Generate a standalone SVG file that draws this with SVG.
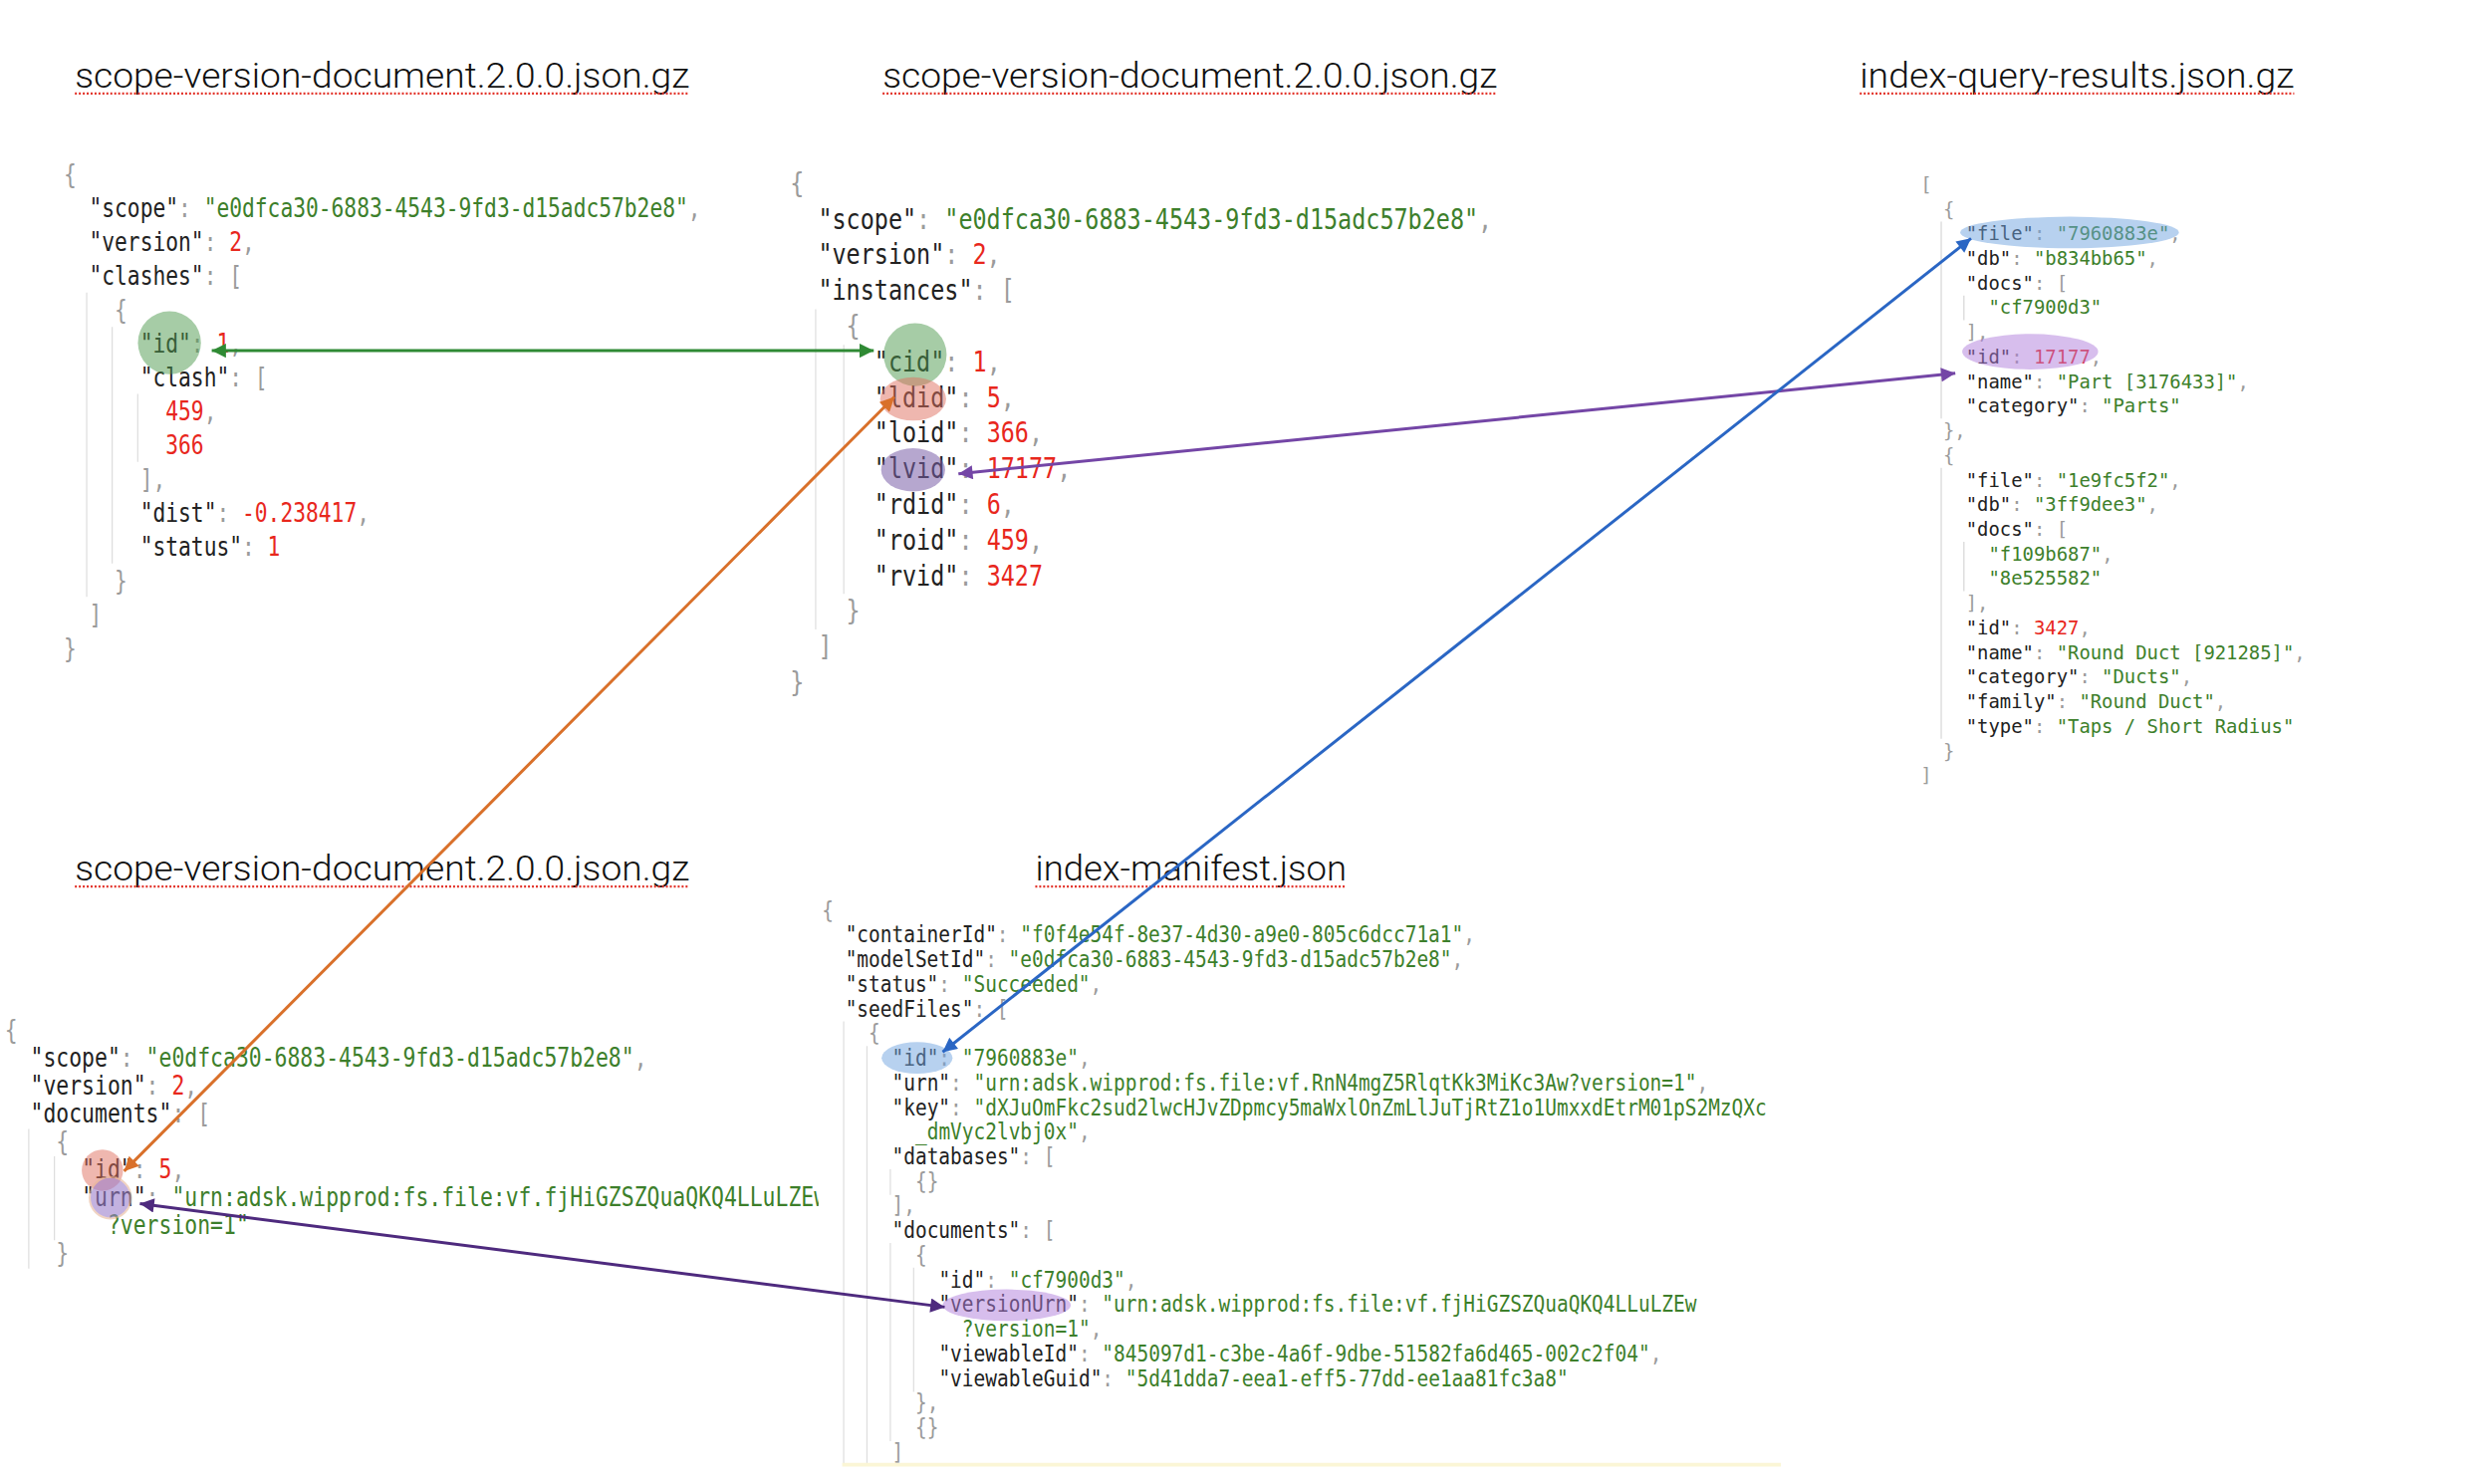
<svg xmlns="http://www.w3.org/2000/svg" width="2500" height="1490" viewBox="0 0 2500 1490">
<style>
.t{font-family:Roboto,"Liberation Sans",Arial,sans-serif;font-weight:300;font-size:36px;fill:#111}
.ul{stroke:#e3342b;stroke-width:2.2;stroke-dasharray:2 2}
.j{font-family:"DejaVu Sans Mono","Liberation Mono",monospace;fill:#222}
.p{fill:#9b9b9b}
.s{fill:#3d7f2b}
.n{fill:#e8271d}
.g{stroke:#dedede;stroke-width:1.5;fill:none}
.a{fill:none;stroke-width:3}
</style>
<defs>
<marker id="mG" viewBox="0 0 10 10" refX="10" refY="5" markerWidth="5.6" markerHeight="4.8" orient="auto-start-reverse"><path d="M0,0L10,5L0,10z" fill="#2f8a34"/></marker>
<marker id="mO" viewBox="0 0 10 10" refX="10" refY="5" markerWidth="5.6" markerHeight="4.8" orient="auto-start-reverse"><path d="M0,0L10,5L0,10z" fill="#d9702a"/></marker>
<marker id="mP" viewBox="0 0 10 10" refX="10" refY="5" markerWidth="5.6" markerHeight="4.8" orient="auto-start-reverse"><path d="M0,0L10,5L0,10z" fill="#7446a6"/></marker>
<marker id="mB" viewBox="0 0 10 10" refX="10" refY="5" markerWidth="5.6" markerHeight="4.8" orient="auto-start-reverse"><path d="M0,0L10,5L0,10z" fill="#2a66c4"/></marker>
<marker id="mQ" viewBox="0 0 10 10" refX="10" refY="5" markerWidth="5.6" markerHeight="4.8" orient="auto-start-reverse"><path d="M0,0L10,5L0,10z" fill="#4e2a7e"/></marker>
<clipPath id="c4"><rect x="0" y="900" width="831" height="500"/></clipPath>
</defs>
<rect width="2500" height="1490" fill="#fff"/>
<g id="diagram" transform="scale(0.989)">

<g id="titles">
<text class="t" x="76" y="89" textLength="624" lengthAdjust="spacingAndGlyphs">scope-version-document.2.0.0.json.gz</text>
<line class="ul" x1="76" y1="95" x2="700" y2="95"/>
<text class="t" x="896" y="89" textLength="624" lengthAdjust="spacingAndGlyphs">scope-version-document.2.0.0.json.gz</text>
<line class="ul" x1="896" y1="95" x2="1520" y2="95"/>
<text class="t" x="1888" y="89" textLength="441" lengthAdjust="spacingAndGlyphs">index-query-results.json.gz</text>
<line class="ul" x1="1888" y1="95" x2="2329" y2="95"/>
<text class="t" x="76" y="894" textLength="624" lengthAdjust="spacingAndGlyphs">scope-version-document.2.0.0.json.gz</text>
<line class="ul" x1="76" y1="900" x2="700" y2="900"/>
<text class="t" x="1051" y="894" textLength="316" lengthAdjust="spacingAndGlyphs">index-manifest.json</text>
<line class="ul" x1="1051" y1="900" x2="1367" y2="900"/>
</g>

<g id="block1" class="j" font-size="26" transform="translate(64.6 0) scale(0.827 1)">
<line class="g" x1="28.3" y1="297" x2="28.3" y2="606"/>
<line class="g" x1="59.6" y1="332" x2="59.6" y2="572"/>
<line class="g" x1="91" y1="400" x2="91" y2="469"/>
<text x="0" y="186"><tspan class="p">{</tspan></text>
<text x="31.3" y="220.4">"scope"<tspan class="p">: </tspan><tspan class="s">"e0dfca30-6883-4543-9fd3-d15adc57b2e8"</tspan><tspan class="p">,</tspan></text>
<text x="31.3" y="254.7">"version"<tspan class="p">: </tspan><tspan class="n">2</tspan><tspan class="p">,</tspan></text>
<text x="31.3" y="289.1">"clashes"<tspan class="p">: [</tspan></text>
<text x="62.6" y="323.4"><tspan class="p">{</tspan></text>
<text x="93.9" y="357.8">"id"<tspan class="p">: </tspan><tspan class="n">1</tspan><tspan class="p">,</tspan></text>
<text x="93.9" y="392.2">"clash"<tspan class="p">: [</tspan></text>
<text x="125.2" y="426.5"><tspan class="n">459</tspan><tspan class="p">,</tspan></text>
<text x="125.2" y="460.9"><tspan class="n">366</tspan></text>
<text x="93.9" y="495.2"><tspan class="p">],</tspan></text>
<text x="93.9" y="529.6">"dist"<tspan class="p">: </tspan><tspan class="n">-0.238417</tspan><tspan class="p">,</tspan></text>
<text x="93.9" y="564">"status"<tspan class="p">: </tspan><tspan class="n">1</tspan></text>
<text x="62.6" y="598.3"><tspan class="p">}</tspan></text>
<text x="31.3" y="632.7"><tspan class="p">]</tspan></text>
<text x="0" y="667"><tspan class="p">}</tspan></text>
</g>
<g id="hl1"><circle cx="172" cy="348" r="32" fill="#4e9a4e" opacity="0.5"/></g>

<g id="block2" class="j" font-size="28.65" transform="translate(802 0) scale(0.827 1)">
<line class="g" x1="31.5" y1="314" x2="31.5" y2="639"/>
<line class="g" x1="66" y1="350" x2="66" y2="603"/>
<text x="0" y="196"><tspan class="p">{</tspan></text>
<text x="34.49" y="232.2">"scope"<tspan class="p">: </tspan><tspan class="s">"e0dfca30-6883-4543-9fd3-d15adc57b2e8"</tspan><tspan class="p">,</tspan></text>
<text x="34.49" y="268.4">"version"<tspan class="p">: </tspan><tspan class="n">2</tspan><tspan class="p">,</tspan></text>
<text x="34.49" y="304.6">"instances"<tspan class="p">: [</tspan></text>
<text x="68.99" y="340.8"><tspan class="p">{</tspan></text>
<text x="103.48" y="377">"cid"<tspan class="p">: </tspan><tspan class="n">1</tspan><tspan class="p">,</tspan></text>
<text x="103.48" y="413.2">"ldid"<tspan class="p">: </tspan><tspan class="n">5</tspan><tspan class="p">,</tspan></text>
<text x="103.48" y="449.4">"loid"<tspan class="p">: </tspan><tspan class="n">366</tspan><tspan class="p">,</tspan></text>
<text x="103.48" y="485.6">"lvid"<tspan class="p">: </tspan><tspan class="n">17177</tspan><tspan class="p">,</tspan></text>
<text x="103.48" y="521.8">"rdid"<tspan class="p">: </tspan><tspan class="n">6</tspan><tspan class="p">,</tspan></text>
<text x="103.48" y="558">"roid"<tspan class="p">: </tspan><tspan class="n">459</tspan><tspan class="p">,</tspan></text>
<text x="103.48" y="594.2">"rvid"<tspan class="p">: </tspan><tspan class="n">3427</tspan></text>
<text x="68.99" y="630.4"><tspan class="p">}</tspan></text>
<text x="34.49" y="666.6"><tspan class="p">]</tspan></text>
<text x="0" y="702.8"><tspan class="p">}</tspan></text>
</g>
<g id="hl2">
<circle cx="929" cy="360" r="32" fill="#4e9a4e" opacity="0.5"/>
<ellipse cx="927" cy="405" rx="33.5" ry="22" fill="#e07060" opacity="0.5"/>
<ellipse cx="927" cy="477" rx="32.5" ry="22" fill="#7a5fa8" opacity="0.55"/>
</g>

<g id="block3" class="j" font-size="19.1" transform="translate(1949.7 0)">
<line class="g" x1="21" y1="225" x2="21" y2="425"/>
<line class="g" x1="21" y1="475" x2="21" y2="750"/>
<line class="g" x1="44" y1="300" x2="44" y2="325"/>
<line class="g" x1="44" y1="550" x2="44" y2="600"/>
<text x="0" y="194"><tspan class="p">[</tspan></text>
<text x="23" y="219"><tspan class="p">{</tspan></text>
<text x="46" y="244">"file"<tspan class="p">: </tspan><tspan class="s">"7960883e"</tspan><tspan class="p">,</tspan></text>
<text x="46" y="269">"db"<tspan class="p">: </tspan><tspan class="s">"b834bb65"</tspan><tspan class="p">,</tspan></text>
<text x="46" y="294">"docs"<tspan class="p">: [</tspan></text>
<text x="69" y="319"><tspan class="s">"cf7900d3"</tspan></text>
<text x="46" y="344"><tspan class="p">],</tspan></text>
<text x="46" y="369">"id"<tspan class="p">: </tspan><tspan class="n">17177</tspan><tspan class="p">,</tspan></text>
<text x="46" y="394">"name"<tspan class="p">: </tspan><tspan class="s">"Part [3176433]"</tspan><tspan class="p">,</tspan></text>
<text x="46" y="419">"category"<tspan class="p">: </tspan><tspan class="s">"Parts"</tspan></text>
<text x="23" y="444"><tspan class="p">},</tspan></text>
<text x="23" y="469"><tspan class="p">{</tspan></text>
<text x="46" y="494">"file"<tspan class="p">: </tspan><tspan class="s">"1e9fc5f2"</tspan><tspan class="p">,</tspan></text>
<text x="46" y="519">"db"<tspan class="p">: </tspan><tspan class="s">"3ff9dee3"</tspan><tspan class="p">,</tspan></text>
<text x="46" y="544">"docs"<tspan class="p">: [</tspan></text>
<text x="69" y="569"><tspan class="s">"f109b687"</tspan><tspan class="p">,</tspan></text>
<text x="69" y="594"><tspan class="s">"8e525582"</tspan></text>
<text x="46" y="619"><tspan class="p">],</tspan></text>
<text x="46" y="644">"id"<tspan class="p">: </tspan><tspan class="n">3427</tspan><tspan class="p">,</tspan></text>
<text x="46" y="669">"name"<tspan class="p">: </tspan><tspan class="s">"Round Duct [921285]"</tspan><tspan class="p">,</tspan></text>
<text x="46" y="694">"category"<tspan class="p">: </tspan><tspan class="s">"Ducts"</tspan><tspan class="p">,</tspan></text>
<text x="46" y="719">"family"<tspan class="p">: </tspan><tspan class="s">"Round Duct"</tspan><tspan class="p">,</tspan></text>
<text x="46" y="744">"type"<tspan class="p">: </tspan><tspan class="s">"Taps / Short Radius"</tspan></text>
<text x="23" y="769"><tspan class="p">}</tspan></text>
<text x="0" y="794"><tspan class="p">]</tspan></text>
</g>
<g id="hl3">
<ellipse cx="2101" cy="236" rx="111" ry="16" fill="#6fa3e0" opacity="0.5"/>
<ellipse cx="2061" cy="357" rx="69" ry="18" fill="#b07ddb" opacity="0.5"/>
</g>

<g id="block4" clip-path="url(#c4)">
<g class="j" font-size="26.2" transform="translate(4.8 0) scale(0.827 1)">
<line class="g" x1="29.5" y1="1146" x2="29.5" y2="1288"/>
<line class="g" x1="61" y1="1174" x2="61" y2="1259"/>
<text x="0" y="1055"><tspan class="p">{</tspan></text>
<text x="31.54" y="1083.2">"scope"<tspan class="p">: </tspan><tspan class="s">"e0dfca30-6883-4543-9fd3-d15adc57b2e8"</tspan><tspan class="p">,</tspan></text>
<text x="31.54" y="1111.4">"version"<tspan class="p">: </tspan><tspan class="n">2</tspan><tspan class="p">,</tspan></text>
<text x="31.54" y="1139.6">"documents"<tspan class="p">: [</tspan></text>
<text x="63.08" y="1167.8"><tspan class="p">{</tspan></text>
<text x="94.62" y="1196">"id"<tspan class="p">: </tspan><tspan class="n">5</tspan><tspan class="p">,</tspan></text>
<text x="94.62" y="1224.2">"urn"<tspan class="p">: </tspan><tspan class="s">"urn:adsk.wipprod:fs.file:vf.fjHiGZSZQuaQKQ4LLuLZEw</tspan></text>
<text x="126.16" y="1252.4"><tspan class="s">?version=1"</tspan></text>
<text x="63.08" y="1280.6"><tspan class="p">}</tspan></text>
</g>
</g>
<g id="hl4">
<circle cx="104" cy="1188" r="21" fill="#e07060" opacity="0.5"/>
<circle cx="112" cy="1216" r="21" fill="#9c80cc" opacity="0.6" stroke="#e8b89a" stroke-width="2"/>
</g>

<g id="block5" class="j" font-size="23.8" transform="translate(834.4 0) scale(0.827 1)">
<line class="g" x1="26.7" y1="1037" x2="26.7" y2="1488"/>
<line class="g" x1="55.3" y1="1062" x2="55.3" y2="1488"/>
<line class="g" x1="84" y1="1187" x2="84" y2="1213"/>
<line class="g" x1="84" y1="1262" x2="84" y2="1463"/>
<line class="g" x1="112.6" y1="1287" x2="112.6" y2="1413"/>
<text x="0" y="932"><tspan class="p">{</tspan></text>
<text x="28.66" y="957">"containerId"<tspan class="p">: </tspan><tspan class="s">"f0f4e54f-8e37-4d30-a9e0-805c6dcc71a1"</tspan><tspan class="p">,</tspan></text>
<text x="28.66" y="982">"modelSetId"<tspan class="p">: </tspan><tspan class="s">"e0dfca30-6883-4543-9fd3-d15adc57b2e8"</tspan><tspan class="p">,</tspan></text>
<text x="28.66" y="1007">"status"<tspan class="p">: </tspan><tspan class="s">"Succeeded"</tspan><tspan class="p">,</tspan></text>
<text x="28.66" y="1032">"seedFiles"<tspan class="p">: [</tspan></text>
<text x="57.32" y="1057"><tspan class="p">{</tspan></text>
<text x="85.98" y="1082">"id"<tspan class="p">: </tspan><tspan class="s">"7960883e"</tspan><tspan class="p">,</tspan></text>
<text x="85.98" y="1107">"urn"<tspan class="p">: </tspan><tspan class="s">"urn:adsk.wipprod:fs.file:vf.RnN4mgZ5RlqtKk3MiKc3Aw?version=1"</tspan><tspan class="p">,</tspan></text>
<text x="85.98" y="1132">"key"<tspan class="p">: </tspan><tspan class="s">"dXJuOmFkc2sud2lwcHJvZDpmcy5maWxlOnZmLlJuTjRtZ1o1UmxxdEtrM01pS2MzQXc</tspan></text>
<text x="114.64" y="1157"><tspan class="s">_dmVyc2lvbj0x"</tspan><tspan class="p">,</tspan></text>
<text x="85.98" y="1182">"databases"<tspan class="p">: [</tspan></text>
<text x="114.64" y="1207"><tspan class="p">{}</tspan></text>
<text x="85.98" y="1232"><tspan class="p">],</tspan></text>
<text x="85.98" y="1257">"documents"<tspan class="p">: [</tspan></text>
<text x="114.64" y="1282"><tspan class="p">{</tspan></text>
<text x="143.3" y="1307">"id"<tspan class="p">: </tspan><tspan class="s">"cf7900d3"</tspan><tspan class="p">,</tspan></text>
<text x="143.3" y="1332">"versionUrn"<tspan class="p">: </tspan><tspan class="s">"urn:adsk.wipprod:fs.file:vf.fjHiGZSZQuaQKQ4LLuLZEw</tspan></text>
<text x="171.96" y="1357"><tspan class="s">?version=1"</tspan><tspan class="p">,</tspan></text>
<text x="143.3" y="1382">"viewableId"<tspan class="p">: </tspan><tspan class="s">"845097d1-c3be-4a6f-9dbe-51582fa6d465-002c2f04"</tspan><tspan class="p">,</tspan></text>
<text x="143.3" y="1407">"viewableGuid"<tspan class="p">: </tspan><tspan class="s">"5d41dda7-eea1-eff5-77dd-ee1aa81fc3a8"</tspan></text>
<text x="114.64" y="1432"><tspan class="p">},</tspan></text>
<text x="114.64" y="1457"><tspan class="p">{}</tspan></text>
<text x="85.98" y="1482"><tspan class="p">]</tspan></text>
</g>
<g id="hl5">
<ellipse cx="931" cy="1074" rx="36" ry="16" fill="#6fa3e0" opacity="0.5"/>
<ellipse cx="1022" cy="1325" rx="65" ry="16" fill="#b07ddb" opacity="0.5"/>
<line x1="855" y1="1487" x2="1808" y2="1487" stroke="#fbf6d6" stroke-width="4"/>
</g>

<g id="connectors">
<line class="a" stroke="#2f8a34" x1="215" y1="356" x2="887" y2="356" marker-start="url(#mG)" marker-end="url(#mG)"/>
<line class="a" stroke="#d9702a" x1="908" y1="403" x2="126" y2="1189" marker-start="url(#mO)" marker-end="url(#mO)"/>
<line class="a" stroke="#7446a6" x1="1985" y1="379" x2="973" y2="481" marker-start="url(#mP)" marker-end="url(#mP)"/>
<line class="a" stroke="#2a66c4" x1="2001" y1="242" x2="957" y2="1068" marker-start="url(#mB)" marker-end="url(#mB)"/>
<line class="a" stroke="#4e2a7e" x1="142" y1="1222" x2="959" y2="1327" marker-start="url(#mQ)" marker-end="url(#mQ)"/>
</g>
</g>
</svg>
